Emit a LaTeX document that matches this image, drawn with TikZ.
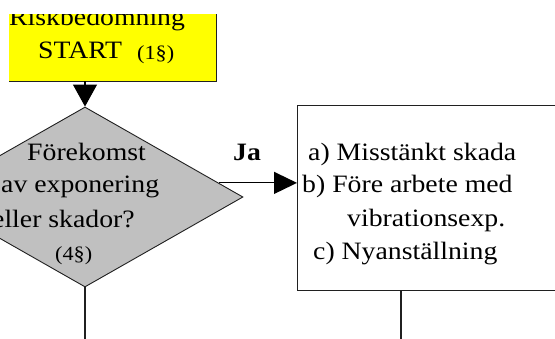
\documentclass[tikz,border=0pt]{standalone}
\usepackage{fontspec}
\usetikzlibrary{shapes.geometric,arrows.meta,calc}
\newfontfamily\dfont{Liberation Serif}
\newcommand\widetext[1]{\scalebox{1.11}[1]{#1}}
\definecolor{startyellow}{HTML}{FFFF00}
\definecolor{diagray}{HTML}{C0C0C0}
\definecolor{edgegray}{HTML}{202020}
\begin{document}
\begin{tikzpicture}[x=1pt,y=-1pt,
  txt/.style={font=\dfont\fontsize{25}{30}\selectfont, inner sep=0pt, anchor=base west},
  smalltxt/.style={font=\dfont\fontsize{20}{22}\selectfont, inner sep=0pt, anchor=base west},
  bigarrow/.style={line width=1.2pt, -{Triangle[length=22pt,width=24pt]}},
  jaarrow/.style={line width=1.2pt, -{Triangle[length=23pt,width=22pt]}},
  plainline/.style={line width=1.3pt, draw=edgegray}]
\useasboundingbox (0,0) rectangle (555,338);
\clip (0,0) rectangle (555,338);
% start box
\node[fill=startyellow, minimum width=207pt, minimum height=67pt, inner sep=0pt, anchor=north west] (start) at (9,14) {};
\draw[line width=1.6pt, draw=edgegray] (start.north east) -- (start.south east) -- (start.south west);
\begin{scope}
\clip (start.north west) rectangle (start.south east);
\node[txt] (risk) at (9,25) {\widetext{Riskbedömning}};
\end{scope}
\node[txt] (startt) at (38,58) {\widetext{START}};
\node[smalltxt] (startn) at (137,59) {\widetext{(1§)}};
% diamond
\node[diamond, draw=edgegray, line width=0.9pt, fill=diagray, minimum width=316pt, minimum height=180pt, inner sep=0pt] (dia) at (85,197) {};
\node[txt] (d1) at (27,160) {\widetext{Förekomst}};
\node[txt] (d2) at (1,192) {\widetext{av exponering}};
\node[txt] (d3) at (-8,227) {\widetext{eller skador?}};
\node[smalltxt] (d4) at (55,260) {\widetext{(4§)}};
% right box
\node[draw=edgegray, line width=1.3pt, minimum width=300pt, minimum height=185pt, inner sep=0pt, anchor=north west] (box) at (297,105) {};
\node[txt] (b1) at (308,160) {\widetext{a) Misstänkt skada}};
\node[txt] (b2) at (302,192) {\widetext{b) Före arbete med}};
\node[txt] (b3) at (347,226) {\widetext{vibrationsexp.}};
\node[txt] (b4) at (313,259) {\widetext{c) Nyanställning}};
% connectors
\draw[bigarrow] (dia.north |- start.south) -- (dia.north);
\coordinate (jastart) at ($(dia.north)!0.844!(dia.east)$);
\draw[jaarrow] (jastart) -- (jastart -| box.west);
\node[txt, font=\dfont\bfseries\fontsize{25}{30}\selectfont] (ja) at (233,160) {\widetext{Ja}};
\coordinate (dend) at (85,345);
\draw[plainline] (dia.south) -- (dend);
\coordinate (bend) at (401,345);
\draw[plainline] (bend |- box.south) -- (bend);
\end{tikzpicture}
\end{document}
